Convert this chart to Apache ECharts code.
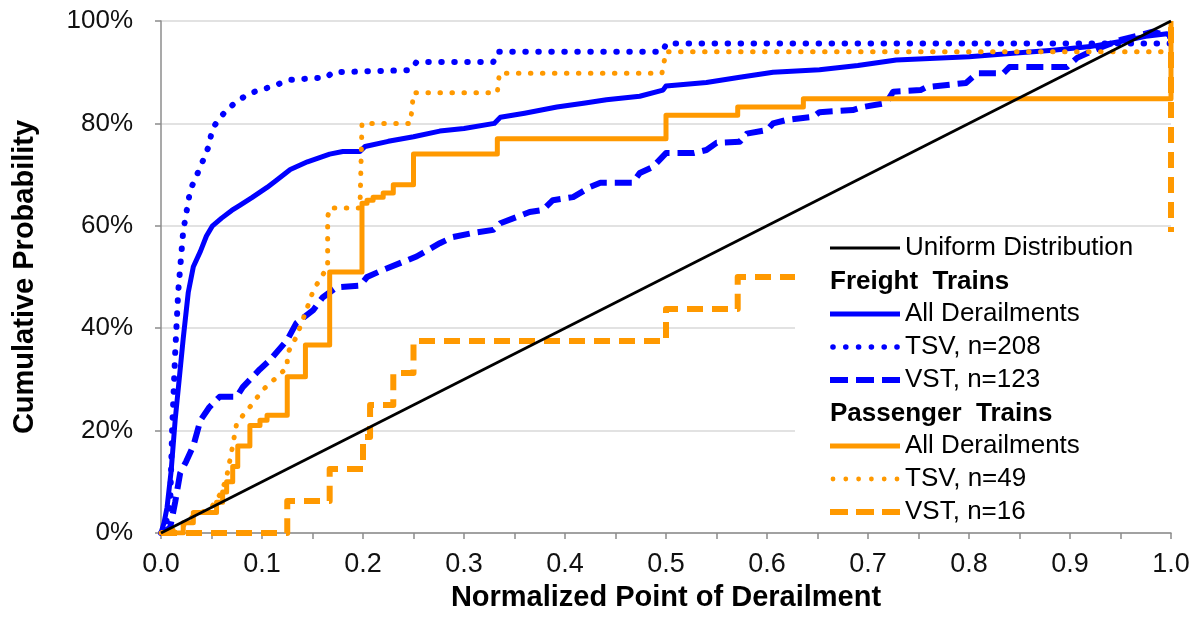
<!DOCTYPE html>
<html>
<head>
<meta charset="utf-8">
<script src="https://cdn.jsdelivr.net/npm/echarts@6/dist/echarts.min.js"></script>
<style>
html,body{margin:0;padding:0;background:#fff;}
#chart{width:1199px;height:628px;}
</style>
</head>
<body>
<div id="chart"></div>
<script>
// ---- Data (x = normalized point of derailment, y = cumulative probability %) ----
const xTicks = [0, 0.1, 0.2, 0.3, 0.4, 0.5, 0.6, 0.7, 0.8, 0.9, 1.0];
const yTicks = [0, 20, 40, 60, 80, 100];

const uniform = [[0, 0], [1, 100]];

const freightAll = [[0,0],[0.003,2],[0.006,5],[0.01,12],[0.014,22],[0.018,30],[0.022,38],[0.027,47],[0.032,52],[0.039,55],[0.045,58],[0.051,60],[0.06,61.5],[0.07,63],[0.078,64],[0.09,65.5],[0.105,67.5],[0.115,69],[0.128,71],[0.145,72.5],[0.167,74],[0.18,74.5],[0.197,74.5],[0.202,75.5],[0.225,76.5],[0.25,77.4],[0.276,78.5],[0.3,79],[0.33,80],[0.336,81.2],[0.36,82],[0.392,83.2],[0.42,84],[0.441,84.6],[0.474,85.3],[0.497,86.5],[0.5,87.3],[0.54,88],[0.573,89],[0.606,90],[0.652,90.5],[0.69,91.3],[0.728,92.4],[0.8,93],[0.85,93.8],[0.883,94.3],[0.92,95],[0.95,96],[0.975,97],[0.996,97.5],[1,96.8]];

const freightTSV = [[0,0],[0.005,2],[0.009,5],[0.011,20],[0.014,35],[0.017,47],[0.022,59],[0.029,67],[0.039,71.5],[0.047,75.4],[0.051,79],[0.058,81],[0.065,82.6],[0.075,84.3],[0.088,85.9],[0.108,87.1],[0.128,88.5],[0.164,89],[0.17,90],[0.247,90.4],[0.253,92],[0.329,92],[0.333,94],[0.497,94],[0.5,95.6],[1,95.6]];

const freightVST = [[0,0],[0.009,1],[0.014,6],[0.019,11.7],[0.025,14],[0.032,17],[0.039,22],[0.048,24.6],[0.058,26.6],[0.075,26.6],[0.081,28.5],[0.098,32],[0.108,33.8],[0.125,37.7],[0.134,41],[0.151,43.6],[0.16,46],[0.174,48],[0.197,48.3],[0.204,50],[0.22,51.4],[0.253,54],[0.276,56.6],[0.289,57.8],[0.309,58.6],[0.329,59.2],[0.336,60.5],[0.352,61.7],[0.365,62.7],[0.378,63.1],[0.388,65],[0.408,65.6],[0.425,67.6],[0.435,68.4],[0.467,68.4],[0.474,70.3],[0.487,71.5],[0.5,74.2],[0.527,74.2],[0.54,74.8],[0.55,76.2],[0.573,76.4],[0.58,78],[0.6,78.7],[0.606,80],[0.62,80.7],[0.646,81.3],[0.652,82.2],[0.685,82.6],[0.695,83.2],[0.718,84],[0.725,86.2],[0.752,86.5],[0.758,87.1],[0.797,87.9],[0.808,89.8],[0.834,89.8],[0.84,91],[0.897,91],[0.907,92.8],[0.917,93.7],[0.933,95],[0.95,96.3],[0.982,97.9],[1,97]];

// step ('end') points: value after each jump
const passAll = [[0,0],[0.022,2],[0.032,4],[0.055,6],[0.061,8],[0.065,10],[0.071,13],[0.076,17],[0.088,21],[0.098,22],[0.105,23],[0.125,30.5],[0.143,36.7],[0.167,51],[0.199,64.4],[0.204,65],[0.21,65.6],[0.22,66.4],[0.23,68],[0.25,74],[0.333,77],[0.5,81.6],[0.571,83.2],[0.636,84.8],[1,100]];

const passTSV = [[0,0],[0.02,1],[0.03,3],[0.05,5],[0.06,8],[0.065,11],[0.07,16],[0.075,21.5],[0.088,24.6],[0.101,28],[0.115,30.5],[0.125,32.4],[0.125,35],[0.134,38.3],[0.143,43],[0.151,47.5],[0.165,52],[0.165,61.7],[0.167,63.5],[0.197,63.5],[0.199,80],[0.247,80],[0.25,86],[0.333,86],[0.335,89.8],[0.496,89.8],[0.5,94],[1,94]];

const passVST = [[0,0],[0.125,6.25],[0.167,12.5],[0.2,18.75],[0.207,25],[0.23,31.25],[0.25,37.5],[0.5,43.75],[0.571,50],[1,100]];

const names = {
  uni: 'Uniform Distribution',
  fAll: 'All Derailments', fTSV: 'TSV, n=208', fVST: 'VST, n=123',
  pAll: 'All Derailments ', pTSV: 'TSV, n=49', pVST: 'VST, n=16'
};
const headers = ['Freight  Trains', 'Passenger  Trains'];

const BLUE = '#0000ff', ORANGE = '#ff9900';
const FONT = '"Liberation Sans", Arial, sans-serif';

// legend icon shapes (drawn in a 70 x 6 box; tiny corner anchors fix the box)
const ANCH = 'M0,0H0.01V0.01H0Z M69.99,5.99H70V6H69.99Z ';
function dots(r) {
  const cs = [3, 15.8, 28.6, 41.4, 54.2, 67];
  return cs.map(c => `M${c - r},3A${r},${r},0,1,0,${c + r},3A${r},${r},0,1,0,${c - r},3Z`).join(' ');
}
const ICON = {
  thin: 'path://' + ANCH + 'M0,1.6H70V4.4H0Z',
  solid: 'path://' + ANCH + 'M0,0.5H70V5.5H0Z',
  dash: 'path://' + ANCH + 'M0,0H18V6H0Z M26,0H44V6H26Z M52,0H70V6H52Z',
  dotB: 'path://' + ANCH + dots(2.8),
  dotO: 'path://' + ANCH + dots(2.4)
};

function line(name, data, color, width, type, cap, step, z) {
  return {
    name, type: 'line', data, step: step || false,
    showSymbol: false, symbol: 'none', animation: false, z: z || 2,
    lineStyle: { color, width, type, cap: cap || 'butt', join: 'round' },
    itemStyle: { color, borderWidth: 0 }
  };
}

const chart = echarts.init(document.getElementById('chart'));
const legendText = { fontFamily: FONT, fontSize: 26, color: '#000', lineHeight: 26 };
const legendCommon = {
  orient: 'vertical', left: 830, itemWidth: 70, itemHeight: 6, itemGap: 7,
  padding: 0, selectedMode: false, textStyle: legendText, z: 10,
  itemStyle: { borderWidth: 0 }, symbolKeepAspect: false
};

chart.setOption({
  backgroundColor: '#fff',
  animation: false,
  grid: { left: 161, right: 28, top: 21, bottom: 95, containLabel: false, outerBoundsMode: 'none' },
  xAxis: {
    type: 'value', min: 0, max: 1, interval: 0.1,
    axisLine: { show: true, lineStyle: { color: '#8c8c8c', width: 1.5 } },
    axisTick: { show: true, length: 6, lineStyle: { color: '#8c8c8c', width: 1.5 } },
    minorTick: { show: true, splitNumber: 2, length: 6, lineStyle: { color: '#8c8c8c', width: 1.5 } },
    splitLine: { show: false },
    axisLabel: { fontFamily: FONT, fontSize: 27, color: '#111', margin: 18, formatter: v => v.toFixed(1) },
    name: 'Normalized Point of Derailment', nameLocation: 'middle', nameGap: 50,
    nameTextStyle: { fontFamily: FONT, fontSize: 29, fontWeight: 'bold', color: '#000' }
  },
  yAxis: {
    type: 'value', min: 0, max: 100, interval: 20,
    axisLine: { show: true, lineStyle: { color: '#8c8c8c', width: 1.5 } },
    axisTick: { show: true, length: 6, lineStyle: { color: '#8c8c8c', width: 1.5 } },
    splitLine: { show: true, lineStyle: { color: '#d9d9d9', width: 1.5 } },
    axisLabel: { fontFamily: FONT, fontSize: 26, color: '#111', margin: 28, formatter: '{value}%' },
    name: 'Cumulative Probability', nameLocation: 'middle', nameGap: 122, nameRotate: 90,
    nameTextStyle: { fontFamily: FONT, fontSize: 29, fontWeight: 'bold', color: '#000' }
  },
  legend: [
    Object.assign({}, legendCommon, { top: 235, data: [{ name: names.uni, icon: ICON.thin }] }),
    Object.assign({}, legendCommon, { top: 301, data: [
      { name: names.fAll, icon: ICON.solid },
      { name: names.fTSV, icon: ICON.dotB },
      { name: names.fVST, icon: ICON.dash }
    ] }),
    Object.assign({}, legendCommon, { top: 433, data: [
      { name: names.pAll, icon: ICON.solid },
      { name: names.pTSV, icon: ICON.dotO },
      { name: names.pVST, icon: ICON.dash }
    ] })
  ],
  graphic: [
    { type: 'rect', z: 8, silent: true, shape: { x: 795, y: 232, width: 385, height: 299 }, style: { fill: '#fff' } },
    { type: 'text', z: 10, left: 830, top: 269, style: { text: headers[0], font: 'bold 26px ' + FONT, fill: '#000' } },
    { type: 'text', z: 10, left: 830, top: 401, style: { text: headers[1], font: 'bold 26px ' + FONT, fill: '#000' } }
  ],
  series: [
    line(names.fVST, freightVST, BLUE, 6, [17, 8], 'butt', false, 2),
    line(names.fTSV, freightTSV, BLUE, 6, [0.5, 12.5], 'round', false, 2),
    line(names.fAll, freightAll, BLUE, 5, 'solid', 'butt', false, 2),
    line(names.pVST, passVST, ORANGE, 6, [16, 9], 'butt', 'end', 3),
    line(names.pTSV, passTSV, ORANGE, 5, [0.5, 11.5], 'round', false, 3),
    line(names.pAll, passAll, ORANGE, 5, 'solid', 'butt', 'end', 3),
    line(names.uni, uniform, '#000', 2.8, 'solid', 'butt', false, 4)
  ]
});
</script>
</body>
</html>
